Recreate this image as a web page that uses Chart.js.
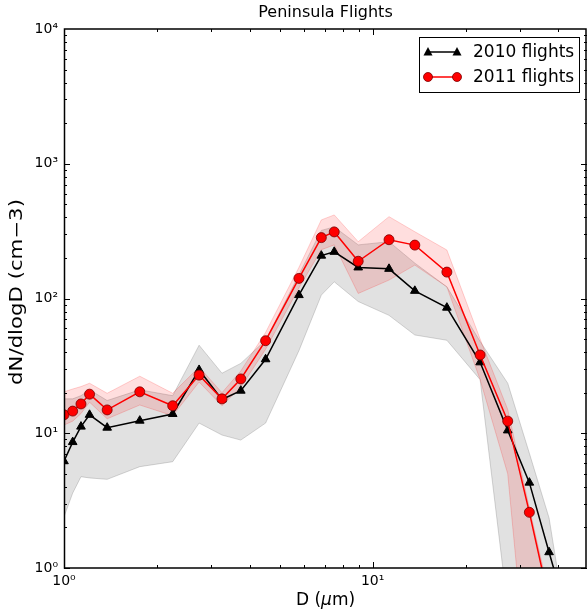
<!DOCTYPE html>
<html>
<head>
<meta charset="utf-8">
<script src="https://cdn.jsdelivr.net/npm/chart.js@4/dist/chart.umd.min.js"></script>
<style>
  html, body { margin: 0; padding: 0; background: #fff; overflow: hidden; }
  #wrap { width: 587px; height: 612px; }
</style>
</head>
<body>
<div id="wrap"><canvas id="sizeChart"></canvas></div>
<script>
// Particle size bins (um) and mean spectra for the two campaigns
const diameters = [1.0, 1.067, 1.135, 1.21, 1.38, 1.76, 2.25, 2.74, 3.25, 3.74, 4.5, 5.77, 6.82, 7.51, 8.98, 11.3, 13.7, 17.4, 22.3, 27.4, 32.2, 37.3, 43.0];
const n2010 = [6.2, 8.6, 11.2, 13.7, 11.0, 12.4, 13.9, 29.5, 17.8, 20.7, 35.4, 106, 208, 222, 170, 166, 114, 85.5, 33.6, 10.5, 4.3, 1.31, 0.42];
const n2011 = [13.7, 14.6, 16.5, 19.5, 14.9, 20.3, 16.0, 27, 18.0, 25.3, 48.6, 141, 283, 312, 189, 273, 249, 157, 38.1, 12.3, 2.59, 0.57];

// spread (min / max) of the individual flights
const lo2010 = [2.4, 3.6, 4.76, 4.66, 4.55, 5.65, 6.15, 11.9, 9.7, 8.9, 11.9, 41, 106, 133, 95, 75, 53.6, 49, 25, 0.5, 0.1, 0.1, 0.1];
const hi2010 = [18, 18, 19, 21, 17.5, 21, 19, 45, 27.9, 33, 49, 150, 320, 340, 250, 264, 183, 122, 48, 23.5, 7.1, 2.35, 0.31];
const lo2011 = [11.5, 12.3, 14, 17, 12.8, 16.2, 13.5, 24, 16, 22, 42, 120, 230, 250, 109, 137, 177, 122, 25, 5, 0.1, 0.1];
const hi2011 = [20.3, 21.3, 22.2, 23.5, 19.8, 26.5, 19.8, 31, 20, 29, 56, 170, 383, 417, 264, 405, 313, 229, 50, 15, 2.79, 0.64];

const yTicks = [1, 10, 100, 1000, 10000];
const xTicks = [1, 10];
const sup = { '0': '\u2070', '1': '\u00B9', '2': '\u00B2', '3': '\u00B3', '4': '\u2074' };

const FONT = "'DejaVu Sans', sans-serif";

function pts(ys) {
    return ys.map((y, i) => ({ x: diameters[i], y: y }));
}

function powLabel(v) {
    const e = String(Math.round(Math.log10(v)));
    return '10' + e.split('').map(c => sup[c]).join('');
}

// box, inward ticks, titles and legend
const framePlugin = {
    id: 'frame',
    afterDraw(chart) {
        const ctx = chart.ctx;
        const a = chart.chartArea;
        const xs = chart.scales.x;
        const ys = chart.scales.y;
        ctx.save();
        ctx.strokeStyle = '#000';
        ctx.lineWidth = 1;

        // minor + major ticks on all four sides
        ctx.beginPath();
        for (let d = 1; d <= 1000; d *= 10) {
            for (let m = 1; m <= 9; m++) {
                const py = Math.round(ys.getPixelForValue(d * m)) + 0.5;
                const len = m === 1 ? 6 : 3;
                ctx.moveTo(a.left, py); ctx.lineTo(a.left + len, py);
                ctx.moveTo(a.right, py); ctx.lineTo(a.right - len, py);
            }
        }
        for (let d = 1; d <= 10; d *= 10) {
            for (let m = 1; m <= 9; m++) {
                const v = d * m;
                if (v > xs.max) break;
                const px = Math.round(xs.getPixelForValue(v)) + 0.5;
                const len = m === 1 ? 6 : 3;
                ctx.moveTo(px, a.bottom); ctx.lineTo(px, a.bottom - len);
                ctx.moveTo(px, a.top); ctx.lineTo(px, a.top + len);
            }
        }
        ctx.stroke();

        // frame
        ctx.lineWidth = 1.5;
        ctx.strokeRect(a.left + 0.5, a.top, a.right - a.left - 1.5, a.bottom - a.top);

        // titles
        ctx.fillStyle = '#000';
        ctx.textAlign = 'center';
        ctx.textBaseline = 'middle';
        const cx = (a.left + a.right) / 2;
        ctx.font = '16px ' + FONT;
        ctx.fillText('Peninsula Flights', cx, 13);

        // x title with italic mu
        ctx.font = '17px ' + FONT;
        const p1 = 'D (', p3 = 'm)';
        const w1 = ctx.measureText(p1).width;
        const w3 = ctx.measureText(p3).width;
        ctx.font = 'italic 17px ' + FONT;
        const w2 = ctx.measureText('\u03BC').width;
        let x0 = cx - (w1 + w2 + w3) / 2;
        ctx.textAlign = 'left';
        ctx.font = '17px ' + FONT;
        ctx.fillText(p1, x0, 601);
        ctx.font = 'italic 17px ' + FONT;
        ctx.fillText('\u03BC', x0 + w1, 601);
        ctx.font = '17px ' + FONT;
        ctx.fillText(p3, x0 + w1 + w2, 601);

        // y title, a little drawn out along its length
        ctx.save();
        ctx.translate(18, 292);
        ctx.rotate(-Math.PI / 2);
        ctx.scale(1.25, 1);
        ctx.textAlign = 'center';
        ctx.font = '17px ' + FONT;
        ctx.fillText('dN/dlogD (cm\u22123)', 0, 0);
        ctx.restore();

        // legend
        const lx = 419.5, ly = 37.5, lw = 160, lh = 55;
        ctx.fillStyle = '#fff';
        ctx.fillRect(lx, ly, lw, lh);
        ctx.strokeStyle = '#000';
        ctx.lineWidth = 1;
        ctx.strokeRect(lx, ly, lw, lh);
        const rows = [
            { label: '2010 flights', color: '#000', style: 'tri', y: 52 },
            { label: '2011 flights', color: '#ff0000', style: 'dot', y: 77 }
        ];
        rows.forEach(r => {
            ctx.strokeStyle = r.color;
            ctx.lineWidth = 1.5;
            ctx.beginPath();
            ctx.moveTo(428, r.y); ctx.lineTo(457, r.y);
            ctx.stroke();
            [428, 457].forEach(mx => {
                ctx.beginPath();
                if (r.style === 'tri') {
                    ctx.moveTo(mx, r.y - 5);
                    ctx.lineTo(mx + 4.5, r.y + 3.5);
                    ctx.lineTo(mx - 4.5, r.y + 3.5);
                    ctx.closePath();
                    ctx.fillStyle = '#000';
                    ctx.fill();
                } else {
                    ctx.arc(mx, r.y, 4.5, 0, Math.PI * 2);
                    ctx.fillStyle = '#ff0000';
                    ctx.fill();
                    ctx.strokeStyle = '#700';
                    ctx.lineWidth = 0.8;
                    ctx.stroke();
                }
            });
            ctx.fillStyle = '#000';
            ctx.font = '17px ' + FONT;
            ctx.textAlign = 'left';
            ctx.textBaseline = 'middle';
            ctx.fillText(r.label, 473, r.y + 1);
        });
        ctx.restore();
    }
};

const grayFill = 'rgba(128,128,128,0.24)';
const grayEdge = 'rgba(128,128,128,0.32)';
const pinkFill = 'rgba(255,0,0,0.13)';
const pinkEdge = 'rgba(255,0,0,0.18)';

new Chart(document.getElementById('sizeChart').getContext('2d'), {
    type: 'line',
    data: {
        datasets: [
            { label: '2011 flights', data: pts(n2011), order: 0,
              borderColor: '#ff0000', borderWidth: 1.5, pointStyle: 'circle', pointRadius: 5,
              pointBackgroundColor: '#ff0000', pointBorderColor: '#7a0000', pointBorderWidth: 0.8, fill: false },
            { label: '2010 flights', data: pts(n2010), order: 1,
              borderColor: '#000', borderWidth: 1.5, pointStyle: 'triangle', pointRadius: 5,
              pointBackgroundColor: '#000', pointBorderColor: '#000', pointBorderWidth: 1, fill: false },
            { label: '2011 max', data: pts(hi2011), order: 2,
              borderColor: pinkEdge, borderWidth: 1, pointRadius: 0, backgroundColor: pinkFill, fill: 3 },
            { label: '2011 min', data: pts(lo2011), order: 3,
              borderColor: pinkEdge, borderWidth: 1, pointRadius: 0, fill: false },
            { label: '2010 max', data: pts(hi2010), order: 4,
              borderColor: grayEdge, borderWidth: 1, pointRadius: 0, backgroundColor: grayFill, fill: 5 },
            { label: '2010 min', data: pts(lo2010), order: 5,
              borderColor: grayEdge, borderWidth: 1, pointRadius: 0, fill: false }
        ]
    },
    options: {
        responsive: true,
        maintainAspectRatio: false,
        animation: false,
        layout: { autoPadding: false, padding: { top: 29, right: 0, left: 0, bottom: 0 } },
        elements: { line: { tension: 0 } },
        scales: {
            x: {
                type: 'logarithmic',
                min: 1,
                max: 49.5,
                afterFit: s => { s.height = 44; s.paddingLeft = 0; s.paddingRight = 0; },
                afterBuildTicks: s => { s.ticks = xTicks.map(v => ({ value: v })); },
                grid: { display: false, drawTicks: false },
                border: { display: false },
                ticks: {
                    autoSkip: false,
                    maxRotation: 0,
                    padding: 5,
                    color: '#000',
                    font: { family: FONT, size: 14 },
                    callback: v => powLabel(v)
                }
            },
            y: {
                type: 'logarithmic',
                min: 1,
                max: 10000,
                afterFit: s => { s.width = 64; s.paddingTop = 0; s.paddingBottom = 0; },
                afterBuildTicks: s => { s.ticks = yTicks.map(v => ({ value: v })); },
                grid: { display: false, drawTicks: false },
                border: { display: false },
                ticks: {
                    autoSkip: false,
                    padding: 6,
                    color: '#000',
                    font: { family: FONT, size: 14 },
                    callback: v => powLabel(v)
                }
            }
        },
        plugins: {
            legend: { display: false },
            tooltip: { enabled: false },
            title: { display: false }
        }
    },
    plugins: [framePlugin]
});
</script>
</body>
</html>
